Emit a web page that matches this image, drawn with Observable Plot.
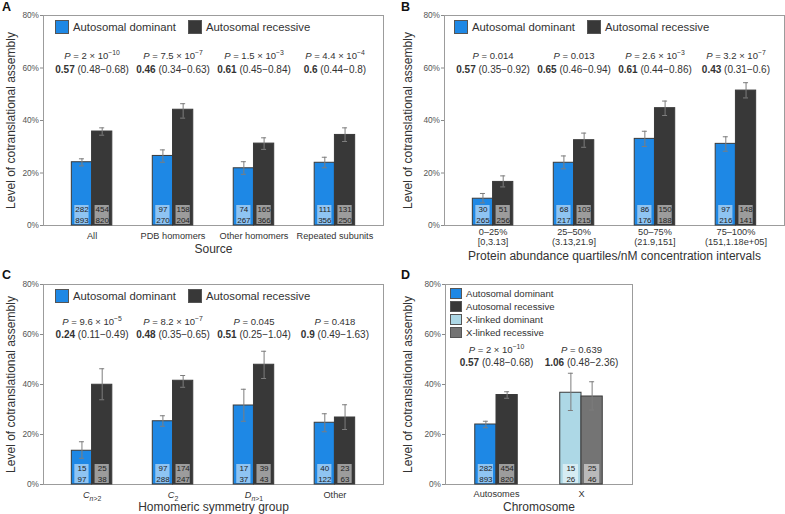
<!DOCTYPE html>
<html><head><meta charset="utf-8">
<script src="https://cdn.jsdelivr.net/npm/d3@7"></script>
<script src="https://cdn.jsdelivr.net/npm/@observablehq/plot@0.6"></script>
<style>
body{margin:0;background:#fff;font-family:"Liberation Sans",Arial,sans-serif;}
#root{position:relative;width:785px;height:514px;overflow:hidden;background:#fff;}
.pane{position:absolute;}
.letter{position:absolute;font-weight:bold;font-size:12.5px;line-height:12px;color:#111;}
.leg{position:absolute;display:flex;align-items:center;white-space:nowrap;color:#333;}
.sw{display:inline-block;box-sizing:border-box;border:1px solid #555;flex:none;}
</style></head><body><div id="root"></div><script>
const FONT = '"Liberation Sans", Arial, sans-serif';
const seriesNames = ["Autosomal dominant", "Autosomal recessive", "X-linked dominant", "X-linked recessive"];
const seriesColors = ["#1e88e5", "#383838", "#add8e6", "#747474"];
const yTitle = "Level of cotranslational assembly";
const yTicks = [0, 0.2, 0.4, 0.6, 0.8];

// ---- Panel A ----
const catsA = ["All", "PDB homomers", "Other homomers", "Repeated subunits"];
const domA = [24.1, 26.5, 21.8, 23.9];
const domLoA = [22.7, 24.1, 19.5, 22.0];
const domHiA = [25.4, 28.8, 24.3, 26.0];
const recA = [35.8, 44.1, 31.2, 34.5];
const recLoA = [34.4, 40.9, 29.0, 32.0];
const recHiA = [37.2, 46.4, 33.4, 37.2];
const domNA = [[282, 893], [97, 270], [74, 267], [111, 356]];
const recNA = [[454, 820], [158, 204], [165, 366], [131, 250]];
const pA = ["2e-10", "7.5e-7", "1.5e-3", "4.4e-4"];
const orA = ["0.57", "0.46", "0.61", "0.6"];
const ciA = [["0.48", "0.68"], ["0.34", "0.63"], ["0.45", "0.84"], ["0.44", "0.8"]];

// ---- Panel B ----
const catsB = ["0–25%\n[0,3.13]", "25–50%\n(3.13,21.9]", "50–75%\n(21.9,151]", "75–100%\n(151,1.18e+05]"];
const domB = [10.2, 23.9, 33.0, 31.1];
const domLoB = [8.6, 21.6, 30.1, 28.3];
const domHiB = [12.2, 26.5, 35.9, 33.8];
const recB = [16.6, 32.5, 44.7, 51.4];
const recLoB = [14.7, 29.8, 41.9, 48.6];
const recHiB = [18.9, 35.2, 47.4, 54.4];
const domNB = [[30, 265], [68, 217], [86, 176], [97, 216]];
const recNB = [[51, 256], [103, 215], [150, 188], [148, 141]];
const pB = ["0.014", "0.013", "2.6e-3", "3.2e-7"];
const orB = ["0.57", "0.65", "0.61", "0.43"];
const ciB = [["0.35", "0.92"], ["0.46", "0.94"], ["0.44", "0.86"], ["0.31", "0.6"]];

// ---- Panel C ----
const catsC = ["C_{n>2}", "C_{2}", "D_{n>1}", "Other"];
const domC = [13.5, 25.3, 31.6, 24.7];
const domLoC = [10.5, 23.3, 25.3, 21.1];
const domHiC = [17.1, 27.5, 38.1, 28.3];
const recC = [39.9, 41.5, 47.9, 26.8];
const recLoC = [33.9, 38.9, 42.4, 22.0];
const recHiC = [46.3, 43.6, 53.3, 31.9];
const domNC = [[15, 97], [97, 288], [17, 37], [40, 122]];
const recNC = [[25, 38], [174, 247], [39, 43], [23, 63]];
const pC = ["9.6e-5", "8.2e-7", "0.045", "0.418"];
const orC = ["0.24", "0.48", "0.51", "0.9"];
const ciC = [["0.11", "0.49"], ["0.35", "0.65"], ["0.25", "1.04"], ["0.49", "1.63"]];

// ---- Panel D ----
const catsD = ["Autosomes", "X"];
const domD = [24.0, 36.7];
const domLoD = [22.7, 29.6];
const domHiD = [25.3, 44.5];
const recD = [35.8, 35.2];
const recLoD = [34.5, 29.8];
const recHiD = [37.1, 41.1];
const domND = [[282, 893], [15, 26]];
const recND = [[454, 820], [25, 46]];
const pD = ["2e-10", "0.639"];
const orD = ["0.57", "1.06"];
const ciD = [["0.48", "0.68"], ["0.48", "2.36"]];
const seriesD = [[0, 1], [2, 3]]; // series index for dominant/recessive bar per category

// ---- helpers ----
function pSegs(p) {
  if (p.includes("e")) {
    const [m, e] = p.split("e");
    return [{t: "P", i: 1}, {t: " = " + m + " × 10"}, {t: e.replace("-", "−"), sup: 1}];
  }
  return [{t: "P", i: 1}, {t: " = " + p}];
}
function orSegs(o, c) {
  return [{t: o, b: 1}, {t: " (" + c[0] + "−" + c[1] + ")"}];
}
function labelSegs(c) {
  const m = c.match(/^(\w)_\{(.*)\}$/);
  if (!m) return [{t: c}];
  const segs = [{t: m[1], i: 1}];
  for (const part of m[2].match(/[a-z]+|[^a-z]+/g)) segs.push({t: part, sub: 1, i: /[a-z]/.test(part) ? 1 : 0});
  return segs;
}
const plain = segs => segs.map(s => s.t).join("");

function enrich(svg, rich) {
  d3.select(svg).selectAll("text").each(function() {
    const segs = rich.get(this.textContent);
    if (!segs || segs.length < 2) return;
    const t = d3.select(this);
    t.text(null);
    let shifted = 0;
    for (const s of segs) {
      const ts = t.append("tspan").text(s.t);
      if (s.i) ts.attr("font-style", "italic");
      if (s.b) ts.attr("font-weight", "bold");
      if (s.sup) ts.attr("font-size", "0.72em");
      if (s.sub) ts.attr("font-size", "0.75em");
      const want = s.sup ? -4 : s.sub ? 3 : 0;
      if (want !== shifted) { ts.attr("dy", want - shifted); shifted = want; }
    }
  });
}

const root = document.getElementById("root");

function drawPanel(d, L) {
  const rows = [];
  d.cats.forEach((c, i) => {
    const s = d.series ? d.series[i] : [0, 1];
    rows.push({i, k: 0, v: d.dom[i] / 100, lo: d.domLo[i] / 100, hi: d.domHi[i] / 100, n: d.domN[i], fill: seriesColors[s[0]]});
    rows.push({i, k: 1, v: d.rec[i] / 100, lo: d.recLo[i] / 100, hi: d.recHi[i] / 100, n: d.recN[i], fill: seriesColors[s[1]]});
  });
  const bw = 0.25;
  const x1 = r => r.i + (r.k ? 0 : -bw);
  const x2 = r => r.i + (r.k ? bw : 0);
  const xc = r => r.i + (r.k ? bw / 2 : -bw / 2);
  const idx = d.cats.map((c, i) => i);
  const rich = new Map();
  const reg = segs => { const t = plain(segs); rich.set(t, segs); return t; };
  const line1 = idx.map(i => reg(pSegs(d.p[i])));
  const line2 = idx.map(i => reg(orSegs(d.or[i], d.ci[i])));
  const tickText = idx.map(i => reg(labelSegs(d.cats[i])));
  const errStroke = "#7d7d7d";

  const svg = Plot.plot({
    width: L.width, height: L.height,
    marginTop: L.mt, marginRight: L.mr, marginBottom: L.mb, marginLeft: L.ml,
    style: {fontFamily: FONT, background: "transparent", overflow: "visible", color: "#333"},
    x: {domain: [-0.6, d.cats.length - 0.4]},
    y: {domain: [0, 0.8]},
    color: {type: "identity"},
    marks: [
      Plot.frame({stroke: "#9c9c9c"}),
      Plot.rect(rows, {x1, x2, y1: 0, y2: "v", fill: "fill", stroke: "#3a3a3a", strokeWidth: 1}),
      Plot.rect(rows, {x1, x2, y1: 0, y2: 0, insetTop: -20, insetBottom: 1, insetLeft: 3, insetRight: 3, fill: "white", fillOpacity: 0.5}),
      Plot.text(rows, {x: xc, text: r => String(r.n[0]), frameAnchor: "bottom", dy: -15.6, fontSize: 8, fill: "#222", lineAnchor: "middle", textAnchor: "middle"}),
      Plot.text(rows, {x: xc, text: r => String(r.n[1]), frameAnchor: "bottom", dy: -5.4, fontSize: 8, fill: "#222", lineAnchor: "middle", textAnchor: "middle"}),
      Plot.ruleX(rows, {x: xc, y1: "lo", y2: "hi", stroke: errStroke}),
      Plot.ruleY(rows, {x1: xc, x2: xc, y: "lo", insetLeft: -2.5, insetRight: -2.5, stroke: errStroke}),
      Plot.ruleY(rows, {x1: xc, x2: xc, y: "hi", insetLeft: -2.5, insetRight: -2.5, stroke: errStroke}),
      Plot.text(idx, {x: i => i, text: i => line1[i], frameAnchor: "top", dy: L.p1Dy, fontSize: 9.5, fill: "#333", lineAnchor: "middle", textAnchor: "middle"}),
      Plot.text(idx, {x: i => i, text: i => line2[i], frameAnchor: "top", dy: L.p2Dy, fontSize: 10, fill: "#333", lineAnchor: "middle", textAnchor: "middle"}),
      Plot.axisY({ticks: yTicks, tickFormat: v => Math.round(v * 100) + "%", tickSize: 3, tickPadding: 1.5, fontSize: 8.3, label: null, color: "#555", stroke: "#8a8a8a"}),
      Plot.axisX({ticks: idx, tickFormat: i => tickText[i], tickSize: 0, tickPadding: L.tickPad, fontSize: 9.2, lineHeight: 1.1, label: null, color: "#333"}),
      Plot.text([d.xTitle], {text: t => t, frameAnchor: "bottom", dy: L.xTitleDy, fontSize: 12, fill: "#333", lineAnchor: "top", textAnchor: "middle"}),
      Plot.text([yTitle], {text: t => t, frameAnchor: "left", dx: L.yTitleDx, rotate: -90, fontSize: 12, fill: "#333", lineAnchor: "middle", textAnchor: "middle"})
    ]
  });
  enrich(svg, rich);
  const pane = document.createElement("div");
  pane.className = "pane";
  pane.style.left = L.left + "px";
  pane.style.top = L.top + "px";
  pane.appendChild(svg);
  root.appendChild(pane);
}

function addLetter(ch, x, y) {
  const el = document.createElement("div");
  el.className = "letter";
  el.textContent = ch;
  el.style.left = x + "px";
  el.style.top = y + "px";
  root.appendChild(el);
}
function addLegendItem(si, x, y, sw, sh, fs, gap) {
  const el = document.createElement("div");
  el.className = "leg";
  el.style.left = x + "px";
  el.style.top = y + "px";
  el.style.height = sh + "px";
  el.style.fontSize = fs + "px";
  const s = document.createElement("span");
  s.className = "sw";
  s.style.width = sw + "px";
  s.style.height = sh + "px";
  s.style.background = seriesColors[si];
  s.style.marginRight = gap + "px";
  el.appendChild(s);
  el.appendChild(document.createTextNode(seriesNames[si]));
  root.appendChild(el);
}

drawPanel({cats: catsA, dom: domA, domLo: domLoA, domHi: domHiA, rec: recA, recLo: recLoA, recHi: recHiA,
  domN: domNA, recN: recNA, p: pA, or: orA, ci: ciA, xTitle: "Source"},
  {left: 0, top: 0, width: 392, height: 262, mt: 15, mr: 9, mb: 37, ml: 43, tickPad: 6, xTitleDy: 19.3, yTitleDx: -32, p1Dy: 40, p2Dy: 54});
drawPanel({cats: catsB, dom: domB, domLo: domLoB, domHi: domHiB, rec: recB, recLo: recLoB, recHi: recHiB,
  domN: domNB, recN: recNB, p: pB, or: orB, ci: ciB, xTitle: "Protein abundance quartiles/nM concentration intervals"},
  {left: 392, top: 0, width: 393, height: 262, mt: 15, mr: 1, mb: 37, ml: 52, tickPad: 2.3, xTitleDy: 26, yTitleDx: -36, p1Dy: 40, p2Dy: 54});
drawPanel({cats: catsC, dom: domC, domLo: domLoC, domHi: domHiC, rec: recC, recLo: recLoC, recHi: recHiC,
  domN: domNC, recN: recNC, p: pC, or: orC, ci: ciC, xTitle: "Homomeric symmetry group"},
  {left: 0, top: 262, width: 392, height: 252, mt: 22, mr: 9, mb: 30, ml: 43, tickPad: 6, xTitleDy: 18.3, yTitleDx: -32, p1Dy: 37.7, p2Dy: 50.3});
drawPanel({cats: catsD, dom: domD, domLo: domLoD, domHi: domHiD, rec: recD, recLo: recLoD, recHi: recHiD,
  domN: domND, recN: recND, p: pD, or: orD, ci: ciD, series: seriesD, xTitle: "Chromosome"},
  {left: 392, top: 262, width: 393, height: 252, mt: 22, mr: 153, mb: 30, ml: 53, tickPad: 5.7, xTitleDy: 17.7, yTitleDx: -37, p1Dy: 65, p2Dy: 78.7});

addLetter("A", 2, 1);
addLetter("B", 401, 1);
addLetter("C", 2, 268.5);
addLetter("D", 401, 268.5);

// legends A, B, C
[[55, 188, 20], [454, 587, 20], [55, 188, 289.3]].forEach(([xa, xb, y]) => {
  addLegendItem(0, xa, y, 13.5, 13.5, 11.3, 4.5);
  addLegendItem(1, xb, y, 13.5, 13.5, 11.3, 4.5);
});
// legend D
[0, 1, 2, 3].forEach(si => addLegendItem(si, 450, 287.7 + si * 13.2, 12, 11, 9.6, 4));
</script></body></html>
